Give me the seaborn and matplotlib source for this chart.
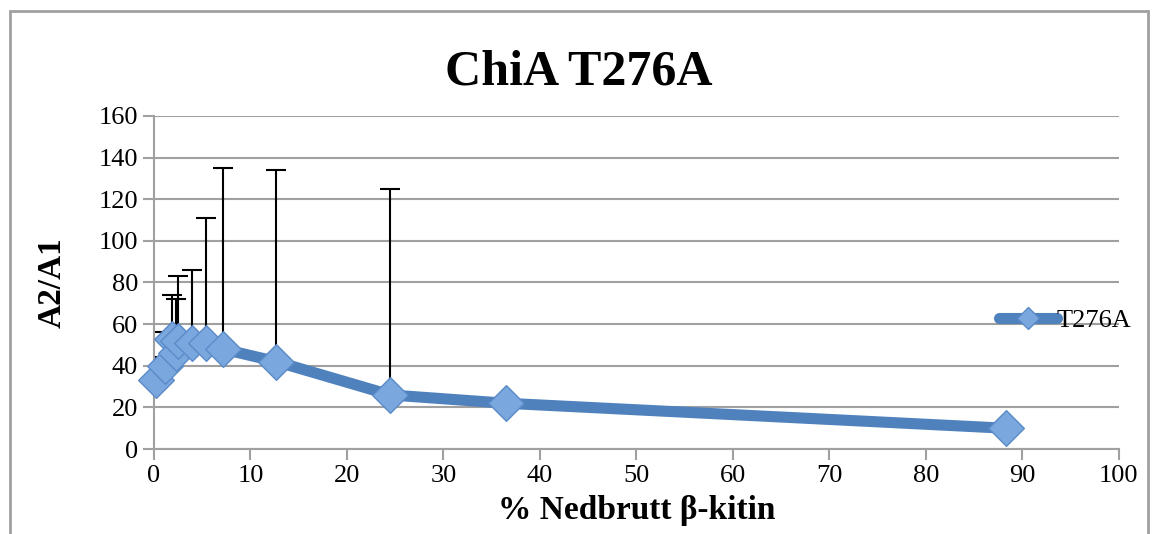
import matplotlib
matplotlib.use('Agg')
import matplotlib.pyplot as plt
import seaborn as sns
import pandas as pd
from matplotlib.patches import Rectangle
from matplotlib.lines import Line2D

# Verdier lest av figuren
nedbrutt = [0.2, 1.2, 1.9, 2.3, 2.5, 4.0, 5.4, 7.2, 12.7, 24.5, 36.5, 88.3]
a2_a1 = [33, 40, 53, 46, 52, 51, 51, 48, 42, 26, 22, 10]
feil_pluss = [11, 16, 21, 26, 31, 35, 60, 87, 92, 99, 2, 2]
serie = 'T276A'

sns.set_theme(style='white')
plt.rcParams['font.family'] = ['Liberation Serif', 'DejaVu Serif']
plt.rcParams['text.color'] = 'black'
plt.rcParams['axes.labelcolor'] = 'black'

df = pd.DataFrame({'x': nedbrutt, 'y': a2_a1, 'err': feil_pluss})

fig = plt.figure(figsize=(11.57, 5.34), dpi=100)
ax = fig.add_axes([0.133, 0.159, 0.834, 0.624])

blue = '#4f81bd'
# feilstolper (kun pluss)
ax.errorbar(df['x'], df['y'], yerr=[[0] * len(df), df['err']], fmt='none',
            ecolor='black', elinewidth=1.5, capsize=7, capthick=1.5, zorder=2)
sns.lineplot(data=df, x='x', y='y', ax=ax, color=blue, linewidth=8,
             sort=False, estimator=None, zorder=3, legend=False)
sns.scatterplot(data=df, x='x', y='y', ax=ax, marker='D', s=330,
                color='#7aa7de', edgecolor='#5a8bc8', linewidth=1,
                zorder=4, legend=False)
for c in ax.collections:
    c.set_clip_on(False)

ax.set_xlim(0, 100)
ax.set_ylim(0, 160)
ax.set_xticks(range(0, 101, 10))
ax.set_yticks(range(0, 161, 20))
ax.grid(axis='y', color='#a0a0a0', linewidth=1.5)
ax.set_axisbelow(True)
for s in ['top', 'right']:
    ax.spines[s].set_visible(False)
for s in ['left', 'bottom']:
    ax.spines[s].set_color('#a0a0a0')
    ax.spines[s].set_linewidth(1.5)
ax.tick_params(axis='both', labelsize=19, labelcolor='black', length=8,
               width=1.5, direction='out', left=True, bottom=True,
               color='#a0a0a0')

ax.set_xlabel('% Nedbrutt β-kitin', fontsize=24, fontweight='bold', labelpad=6)
ax.set_ylabel('A2/A1', fontsize=24, fontweight='bold', labelpad=22)
fig.text(0.5, 0.865, 'ChiA T276A', ha='center', va='center',
         fontsize=36, fontweight='bold', color='black')

# forklaring
h = Line2D([], [], color=blue, linewidth=8, marker='D', markersize=11,
           markerfacecolor='#7aa7de', markeredgecolor='#5a8bc8',
           solid_capstyle='round')
ax.legend([h], [serie], loc='center left', bbox_to_anchor=(0.852, 0.40),
          bbox_transform=fig.transFigure, frameon=False, fontsize=19,
          handlelength=2.2, handletextpad=0.0, borderpad=0)

fig.patches.append(Rectangle((10 / 1157, -0.1), 1138 / 1157, 1.1 - 11 / 534,
                             transform=fig.transFigure, fill=False,
                             edgecolor='#a0a0a0', linewidth=2))

fig.savefig('out.png', dpi=100)
